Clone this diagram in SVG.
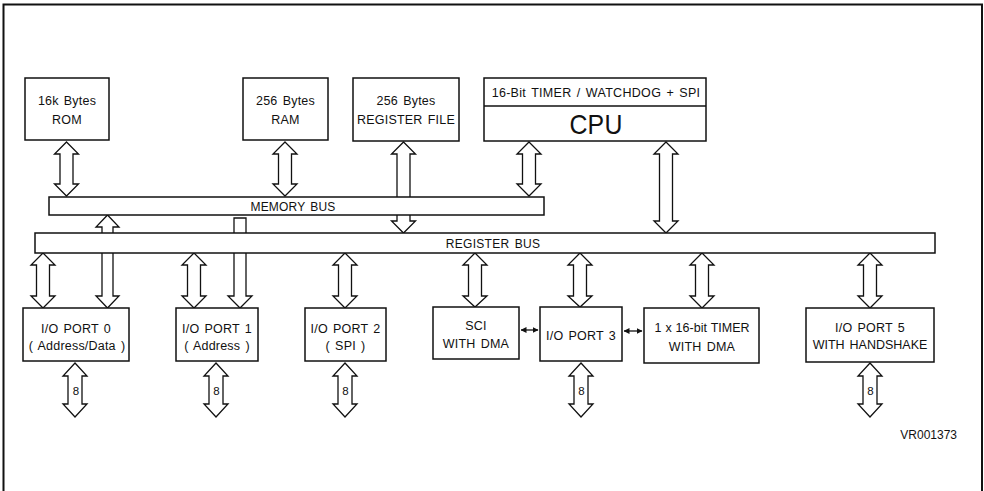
<svg xmlns="http://www.w3.org/2000/svg" width="984" height="491" viewBox="0 0 984 491">
<style>
text{font-family:"Liberation Sans",Arial,sans-serif;font-size:12.5px;fill:#111;text-anchor:middle;letter-spacing:0.2px;word-spacing:1.5px}
.box{fill:#fff;stroke:#111;stroke-width:1.5}
.arr{fill:#fff;stroke:#111;stroke-width:1.3;stroke-linejoin:miter}
.sm{stroke:#111;stroke-width:1.3;fill:none}
.bus{font-size:12px}
.n8{font-size:11.5px}
</style>
<defs>
<marker id="ah" viewBox="0 0 6 6" refX="5.5" refY="3" markerWidth="6" markerHeight="6" markerUnits="userSpaceOnUse" orient="auto-start-reverse">
<path d="M0 0 L6 3 L0 6 Z" fill="#111"/>
</marker>
</defs>
<path d="M3.5 491 L3.5 4.5 L982 4.5 L982 491" fill="none" stroke="#111" stroke-width="2"/>
<g id="connectors">
<path class="arr" d="M66.5 142 L78.5 154 L73 154 L73 184 L78.5 184 L66.5 196 L54.5 184 L60 184 L60 154 L54.5 154 Z"/>
<path class="arr" d="M285 142 L297 154 L291.5 154 L291.5 184 L297 184 L285 196 L273 184 L278.5 184 L278.5 154 L273 154 Z"/>
<path class="arr" d="M403.5 142 L415.5 154 L410 154 L410 221 L415.5 221 L403.5 233 L391.5 221 L397 221 L397 154 L391.5 154 Z"/>
<path class="arr" d="M529 142 L541 154 L535.5 154 L535.5 184 L541 184 L529 196 L517 184 L522.5 184 L522.5 154 L517 154 Z"/>
<path class="arr" d="M666 142 L678 154 L672.5 154 L672.5 221 L678 221 L666 233 L654 221 L659.5 221 L659.5 154 L654 154 Z"/>
<path class="arr" d="M107.5 215 L119 227 L113 227 L113 296 L119 296 L107.5 308 L96 296 L102 296 L102 227 L96 227 Z"/>
<path class="arr" d="M234 218 L246 218 L246 296 L252 296 L240 308 L228 296 L234 296 Z"/>
<path class="arr" d="M43 253 L55 265 L49.5 265 L49.5 296 L55 296 L43 308 L31 296 L36.5 296 L36.5 265 L31 265 Z"/>
<path class="arr" d="M194 253 L206 265 L200.5 265 L200.5 296 L206 296 L194 308 L182 296 L187.5 296 L187.5 265 L182 265 Z"/>
<path class="arr" d="M345 253 L357 265 L351.5 265 L351.5 296 L357 296 L345 308 L333 296 L338.5 296 L338.5 265 L333 265 Z"/>
<path class="arr" d="M475 253 L487 265 L481.5 265 L481.5 296 L487 296 L475 307 L463 296 L468.5 296 L468.5 265 L463 265 Z"/>
<path class="arr" d="M580 253 L592 265 L586.5 265 L586.5 296 L592 296 L580 307 L568 296 L573.5 296 L573.5 265 L568 265 Z"/>
<path class="arr" d="M702 253 L714 265 L708.5 265 L708.5 296 L714 296 L702 308 L690 296 L695.5 296 L695.5 265 L690 265 Z"/>
<path class="arr" d="M870 253 L882 265 L876.5 265 L876.5 296 L882 296 L870 308 L858 296 L863.5 296 L863.5 265 L858 265 Z"/>
<path class="arr" d="M75 363 L87 376 L82 376 L82 404 L87 404 L75 417 L63 404 L68 404 L68 376 L63 376 Z"/>
<path class="arr" d="M216 363 L228 376 L223 376 L223 404 L228 404 L216 417 L204 404 L209 404 L209 376 L204 376 Z"/>
<path class="arr" d="M345 363 L357 376 L352 376 L352 404 L357 404 L345 417 L333 404 L338 404 L338 376 L333 376 Z"/>
<path class="arr" d="M581 363 L593 376 L588 376 L588 404 L593 404 L581 417 L569 404 L574 404 L574 376 L569 376 Z"/>
<path class="arr" d="M870 363 L882 376 L877 376 L877 404 L882 404 L870 417 L858 404 L863 404 L863 376 L858 376 Z"/>
<text class="n8" x="76" y="395">8</text>
<text class="n8" x="216.5" y="395">8</text>
<text class="n8" x="345.5" y="395">8</text>
<text class="n8" x="581.5" y="395">8</text>
<text class="n8" x="870.5" y="395">8</text>
<line class="sm" x1="521" y1="330" x2="538" y2="330" marker-start="url(#ah)" marker-end="url(#ah)"/>
<line class="sm" x1="624" y1="331" x2="642" y2="331" marker-start="url(#ah)" marker-end="url(#ah)"/>
</g>
<g id="rom"><rect class="box" x="25" y="78" width="84" height="62"/><text x="67" y="105">16k Bytes</text><text x="67" y="124">ROM</text></g>
<g id="ram"><rect class="box" x="243" y="78" width="85" height="62"/><text x="285.5" y="105">256 Bytes</text><text x="285.5" y="124">RAM</text></g>
<g id="regfile"><rect class="box" x="353" y="78" width="106" height="63"/><text x="406" y="105">256 Bytes</text><text x="406" y="124">REGISTER FILE</text></g>
<g id="cpu"><rect class="box" x="484" y="78" width="222" height="63"/><line x1="484" y1="106" x2="706" y2="106" stroke="#111" stroke-width="1.3"/><text x="596" y="97" style="letter-spacing:0.3px">16-Bit TIMER / WATCHDOG + SPI</text><text x="596" y="134" style="font-size:28px" textLength="53" lengthAdjust="spacingAndGlyphs">CPU</text></g>
<g id="memory-bus"><rect class="box" x="49" y="197" width="495" height="18"/><text class="bus" x="293" y="211">MEMORY BUS</text></g>
<g id="register-bus"><rect class="box" x="35" y="233" width="900" height="20"/><text class="bus" x="493" y="248" style="letter-spacing:0.3px">REGISTER BUS</text></g>
<g id="port0"><rect class="box" x="23" y="308" width="106" height="53"/><text x="76" y="333">I/O PORT 0</text><text x="77" y="350">( Address/Data )</text></g>
<g id="port1"><rect class="box" x="176" y="308" width="82" height="53"/><text x="217" y="333">I/O PORT 1</text><text x="217" y="350">( Address )</text></g>
<g id="port2"><rect class="box" x="305" y="308" width="81" height="53"/><text x="345.5" y="333">I/O PORT 2</text><text x="345.5" y="350">( SPI )</text></g>
<g id="sci"><rect class="box" x="433" y="307" width="86" height="52"/><text x="476" y="330">SCI</text><text x="476" y="348">WITH DMA</text></g>
<g id="port3"><rect class="box" x="540" y="307" width="82" height="54"/><text x="581" y="340">I/O PORT 3</text></g>
<g id="timer"><rect class="box" x="644" y="308" width="115" height="55"/><text x="702" y="332" style="letter-spacing:0;word-spacing:0.5px">1 x 16-bit TIMER</text><text x="702" y="351">WITH DMA</text></g>
<g id="port5"><rect class="box" x="806" y="308" width="128" height="54"/><text x="870" y="332">I/O PORT 5</text><text x="870" y="349" style="letter-spacing:0">WITH HANDSHAKE</text></g>
<text x="957" y="439" style="font-size:12px;text-anchor:end;letter-spacing:0">VR001373</text>
</svg>
